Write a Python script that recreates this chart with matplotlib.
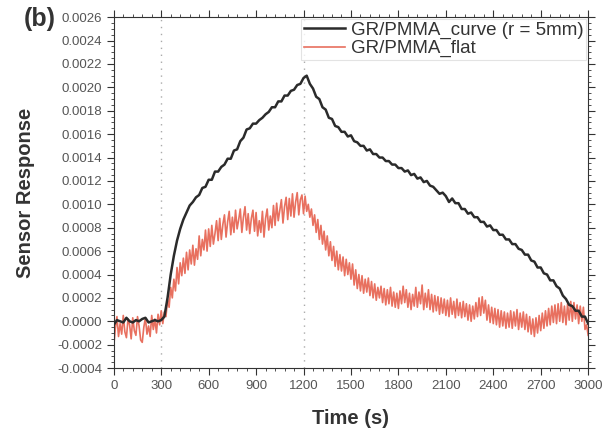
import numpy as np
import matplotlib.pyplot as plt
from matplotlib.ticker import MultipleLocator, FormatStrFormatter

plt.rcParams["font.family"] = ["Liberation Sans", "DejaVu Sans"]

# curved sample, read every 20 s (units of 1e-4)
curve_t = np.arange(0, 3001, 20)
curve_v = [
    -0.3, 0.1, 0.0, -0.1, 0.3, 0.0, -0.1, 0.1, 0.0, 0.2, 0.3, -0.1, 0.0, 0.1, 0.0, 0.1, 0.4,
    2.0, 4.0, 5.6, 6.9, 7.9, 8.7, 9.3, 9.9, 10.2, 10.6, 10.8, 11.4, 11.5, 12.1, 12.1, 12.8,
    12.8, 13.2, 13.4, 13.9, 13.9, 14.6, 14.7, 15.4, 15.7, 16.4, 16.5, 16.9, 16.9, 17.2, 17.4,
    17.7, 17.9, 18.3, 18.3, 18.8, 18.8, 19.3, 19.3, 19.7, 19.8, 20.2, 20.3, 20.8, 21.0,
    20.3, 19.9, 19.2, 19.0, 18.3, 18.1, 17.4, 17.3, 16.7, 16.6, 16.2, 16.2, 15.8, 15.9,
    15.4, 15.3, 15.0, 15.0, 14.6, 14.7, 14.3, 14.3, 14.0, 14.0, 13.7, 13.7, 13.4, 13.4,
    13.1, 13.1, 12.8, 12.9, 12.5, 12.6, 12.2, 12.3, 11.9, 12.0, 11.6, 11.5, 11.2, 10.9,
    11.0, 10.7, 10.2, 10.5, 10.1, 10.1, 9.6, 9.6, 9.2, 9.3, 8.9, 8.9, 8.5, 8.5, 8.1, 8.2,
    7.8, 7.8, 7.4, 7.4, 7.0, 7.0, 6.6, 6.6, 6.2, 6.1, 5.7, 5.7, 5.2, 5.1, 4.6, 4.6, 4.1,
    4.0, 3.5, 3.5, 3.0, 2.8, 2.2, 1.9, 1.4, 1.3, 0.9, 0.9, 0.4, 0.4, -0.2,
]

# flat sample, read every 10 s (units of 1e-4)
flat_v = [
    -2.1, -0.6, 0.4, -1.3, -0.2, -1.1, 0.5, -0.9, -1.4, 0.2,
    -0.3, -1.5, 0.3, -0.8, -1.2, 0.4, -0.4, -1.6, -1.8, -0.5,
    0.3, -1.1, -0.4, -1.3, 0.5, -0.7, 0.2, -1.0, 0.6, -0.3,
    0.9, -0.2, 0.8, 0.4, 1.9, 1.2, 2.9, 2.0, 3.6, 2.6,
    4.6, 3.2, 5.0, 3.9, 5.4, 4.1, 5.9, 4.4, 6.1, 4.9,
    6.5, 4.8, 6.2, 5.3, 7.3, 5.6, 7.0, 6.1, 7.8, 6.0,
    7.9, 6.4, 8.2, 6.6, 7.5, 8.6, 6.9, 8.8, 7.0, 8.3,
    9.1, 7.2, 8.5, 9.4, 7.4, 8.9, 7.6, 9.5, 7.9, 8.7,
    9.6, 7.6, 8.9, 9.8, 7.8, 9.2, 7.5, 8.8, 9.5, 7.7,
    9.3, 7.3, 8.6, 7.6, 9.4, 7.2, 8.8, 9.6, 7.8, 9.0,
    8.0, 9.9, 8.2, 10.1, 8.6, 9.5, 10.4, 8.4, 9.8, 10.6,
    8.7, 10.5, 9.0, 10.9, 8.9, 10.2, 11.0, 9.1, 10.4, 10.8,
    9.2, 10.7, 9.4, 10.0, 8.9, 9.6, 8.2, 9.1, 7.6, 8.7,
    7.0, 8.2, 6.6, 7.7, 6.1, 7.3, 5.6, 6.8, 5.2, 6.4,
    4.7, 6.0, 4.4, 5.7, 4.3, 5.5, 3.9, 5.3, 4.0, 5.0,
    3.6, 4.9, 3.1, 4.4, 2.8, 4.0, 2.6, 3.9, 2.4, 3.6,
    2.5, 3.7, 2.2, 3.4, 2.0, 3.2, 1.8, 2.9, 2.0, 3.0,
    1.6, 2.8, 1.4, 2.7, 1.5, 2.9, 1.3, 2.5, 1.2, 2.4,
    1.1, 2.6, 1.5, 3.0, 1.6, 2.7, 1.2, 2.4, 1.0, 2.3,
    1.3, 2.9, 1.2, 2.5, 1.5, 3.1, 1.0, 2.4, 1.2, 2.7,
    1.0, 2.3, 0.8, 2.2, 0.9, 2.1, 0.6, 2.0, 0.7, 1.9,
    0.5, 1.8, 0.4, 2.0, 0.6, 1.7, 0.3, 1.9, 0.5, 1.6,
    0.3, 1.7, 0.4, 1.5, 0.1, 1.4, 0.0, 1.3, 0.2, 1.6,
    0.4, 2.0, 0.5, 2.1, 0.7, 1.8, 0.1, 1.4, -0.1, 1.2,
    -0.2, 1.1, -0.3, 1.0, -0.5, 0.9, -0.4, 0.8, -0.6, 0.7,
    -0.5, 0.9, -0.6, 0.8, -0.4, 1.0, -0.7, 0.7, -0.5, 0.8,
    -0.7, 0.6, -0.9, 0.4, -1.1, 0.2, -1.3, 0.3, -1.0, 0.5,
    -0.8, 0.7, -0.6, 0.9, -0.4, 1.1, -0.3, 1.3, -0.1, 1.4,
    -0.2, 1.5, 0.0, 1.6, -0.1, 1.3, -0.3, 1.5, 0.1, 1.7,
    0.0, 1.6, 0.2, 1.4, -0.2, 1.3, 0.0, 1.2, -0.7, -0.3,
    -1.2,
]
flat_t = np.arange(0, 10 * len(flat_v), 10)

markers_t = [300, 1200]  # dotted guide lines

fig = plt.figure(figsize=(6.02, 4.30), dpi=100)
ax = fig.add_axes([0.189, 0.144, 0.788, 0.816])

ax.plot(curve_t, np.array(curve_v) * 1e-4, color="#2b2b2b", lw=1.8,
        label="GR/PMMA_curve (r = 5mm)", zorder=3)
ax.plot(flat_t, np.array(flat_v) * 1e-4, color="#e8705f", lw=1.2,
        label="GR/PMMA_flat", zorder=2)
for t in markers_t:
    ax.axvline(t, color="#aaaaaa", ls=(0, (1, 4)), lw=1, zorder=1)

ax.set_xlim(0, 3000)
ax.set_ylim(-0.0004, 0.0026)
ax.xaxis.set_major_locator(MultipleLocator(300))
ax.xaxis.set_minor_locator(MultipleLocator(60))
ax.yaxis.set_major_locator(MultipleLocator(0.0002))
ax.yaxis.set_minor_locator(MultipleLocator(0.00005))
ax.yaxis.set_major_formatter(FormatStrFormatter("%.4f"))

ax.tick_params(which="both", direction="out", top=True, right=True,
               labelsize=9.5, labelcolor="#555555", color="#333333")
ax.tick_params(which="major", length=5)
ax.tick_params(which="minor", length=2.5)
for s in ax.spines.values():
    s.set_color("#333333")

ax.set_xlabel("Time (s)", fontsize=14.5, fontweight="bold", color="#333333",
              labelpad=12)
ax.set_ylabel("Sensor Response", fontsize=14.5, fontweight="bold", color="#333333",
              labelpad=16)
fig.text(0.04, 0.955, "(b)", fontsize=18, fontweight="bold", color="#333333",
         va="center")

leg = ax.legend(loc="upper right", fontsize=13.5, frameon=True, fancybox=False,
                borderpad=0.15, handlelength=2.2, handletextpad=0.3,
                labelspacing=0.05, borderaxespad=0.1)
leg.get_frame().set_edgecolor("#dddddd")
leg.get_frame().set_linewidth(0.8)
for txt in leg.get_texts():
    txt.set_color("#333333")

fig.savefig("out.png", dpi=100)
